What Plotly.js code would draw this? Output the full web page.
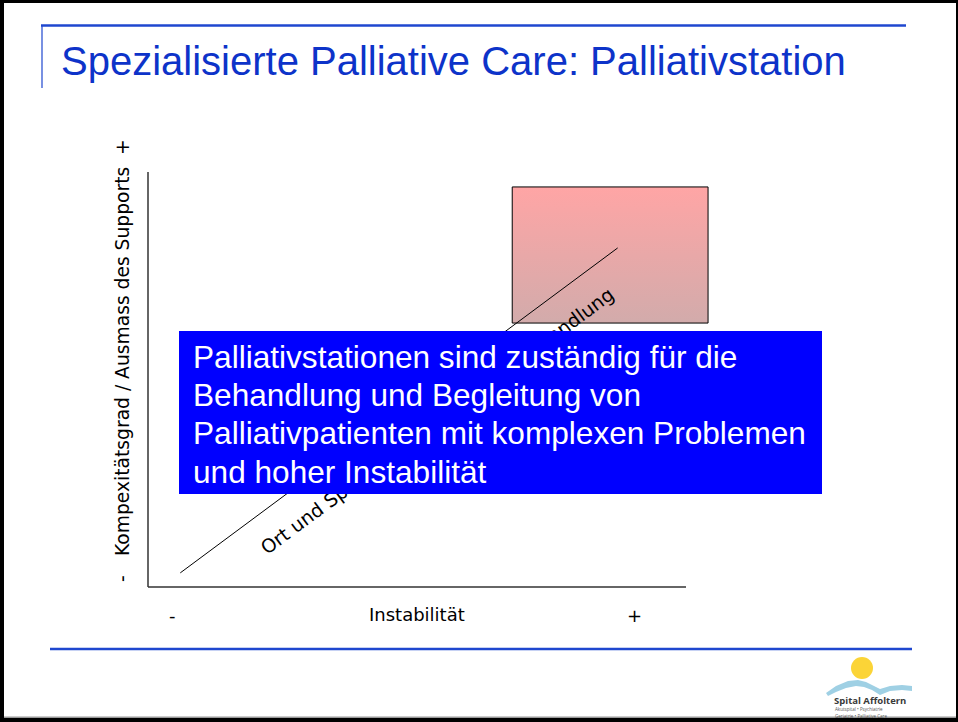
<!DOCTYPE html>
<html>
<head>
<meta charset="utf-8">
<script src="https://cdn.plot.ly/plotly-3.0.1.min.js"></script>
<style>
html,body{margin:0;padding:0;background:#fff;}
#chart{width:958px;height:722px;}
</style>
</head>
<body>
<div id="chart"></div>
<script>
// ---- data ----
const slideTitle = 'Spezialisierte Palliative Care: Palliativstation';
const xTitle = 'Instabilität';
const yTitle = 'Kompexitätsgrad / Ausmass des Supports';
const xEndLabels = ['-', '+'];
const yEndLabels = ['-', '+'];
const diagLabel = 'Ort und Spezialisierungsgrad der Behandlung';
const lineX = [0.6, 8.73];
const lineY = [0.34, 8.17];
const boxX = [6.77, 10.41];
const boxY = [6.36, 9.64];
const calloutLines = [
  'Palliativstationen sind zuständig für die',
  'Behandlung und Begleitung von',
  'Palliativpatienten mit komplexen Problemen',
  'und hoher Instabilität'
];
const logoName = 'Spital Affoltern';
const logoSub = ['Akutspital • Psychiatrie', 'Geriatrie • Palliative Care'];

// ---- geometry helpers (pixel -> paper) ----
const W = 958, H = 722;
const PL = 140, PR = 740, PT = 165, PB = 595;
const px = x => (x - PL) / (PR - PL);
const py = y => (PB - y) / (PB - PT);
// data scale: x 0..10 -> 148..686 ; y 0..10 -> 587..172
const xr = [(PL - 148) / 53.8, (PR - 148) / 53.8];
const yr = [(587 - PB) / 41.5, (587 - PT) / 41.5];

const traces = [
  {
    x: [boxX[0], boxX[1], boxX[1], boxX[0], boxX[0]],
    y: [boxY[0], boxY[0], boxY[1], boxY[1], boxY[0]],
    mode: 'lines', fill: 'toself',
    fillgradient: {type: 'vertical', colorscale: [[0, '#d2abab'], [1, '#ffa5a5']]},
    line: {color: '#000', width: 1},
    hoverinfo: 'skip', showlegend: false
  },
  {
    x: lineX, y: lineY, mode: 'lines',
    line: {color: '#000', width: 1},
    hoverinfo: 'skip', showlegend: false
  }
];

const blue = '#1f47cf';
function rectP(x0, y0, x1, y1, color, layer) {
  return {type: 'rect', xref: 'paper', yref: 'paper', x0: px(x0), x1: px(x1), y0: py(y0), y1: py(y1),
          fillcolor: color, line: {width: 0}, layer: layer || 'above'};
}
function lineP(x0, y0, x1, y1, color, width) {
  return {type: 'line', xref: 'paper', yref: 'paper', x0: px(x0), x1: px(x1), y0: py(y0), y1: py(y1),
          line: {color: color, width: width}, layer: 'above'};
}
function pathP(pts, color) {
  let d = pts.map((p, i) => (i === 0 ? 'M ' : 'L ') + px(p[0]) + ',' + py(p[1])).join(' ') + ' Z';
  return {type: 'path', xref: 'paper', yref: 'paper', path: d, fillcolor: color, line: {width: 0}, layer: 'above'};
}

const shapes = [
  // axis lines (data coordinates)
  {type: 'line', xref: 'x', yref: 'y', x0: 0, x1: 10, y0: 0, y1: 0, line: {color: '#333', width: 1.5}, layer: 'below'},
  {type: 'line', xref: 'x', yref: 'y', x0: 0, x1: 0, y0: 0, y1: 10, line: {color: '#333', width: 1.5}, layer: 'below'},
  // slide frame
  rectP(0, 0, 958, 3, '#000'),
  rectP(0, 0, 4, 722, '#000'),
  rectP(0, 718, 958, 722, '#000'),
  rectP(4, 716.5, 958, 718, '#999'),
  rectP(956, 0, 958, 722, '#000'),
  // decorative blue rules
  lineP(41, 25.5, 906, 25.5, blue, 2.5),
  lineP(42, 25, 42, 88, blue, 1.2),
  lineP(50, 649, 912, 649, blue, 2.5),
  // logo: sun + wave
  {type: 'circle', xref: 'paper', yref: 'paper', x0: px(851), x1: px(873), y0: py(657), y1: py(679),
   fillcolor: '#fbd437', line: {width: 0}, layer: 'above'},
  pathP([[826, 693], [836, 686], [848, 681], [858, 680], [866, 682], [874, 686], [880, 689],
         [890, 686], [902, 685], [912, 686], [912, 691], [902, 690], [890, 691], [880, 695],
         [872, 690], [864, 687], [856, 686], [846, 688], [836, 692], [828, 696]], '#9fd0e4')
];

const annotations = [];
// rotated line label (below the callout)
annotations.push({
  xref: 'x', yref: 'y', x: (436.5 - 148) / 53.8, y: (587 - 420.5) / 41.5,
  text: diagLabel, showarrow: false, textangle: -36.5,
  font: {family: 'DejaVu Sans', size: 19, color: '#000'},
  xanchor: 'center', yanchor: 'middle'
});
// callout box
annotations.push({
  xref: 'paper', yref: 'paper', x: px(500.5), y: py(412.5), text: ' ', showarrow: false,
  width: 643, height: 163, bgcolor: '#0000ff', borderpad: 0, borderwidth: 0,
  xanchor: 'center', yanchor: 'middle'
});
const calloutY = [357, 395, 433, 472];
calloutLines.forEach((t, i) => annotations.push({
  xref: 'paper', yref: 'paper', x: px(191), y: py(calloutY[i]), text: t, showarrow: false,
  xanchor: 'left', yanchor: 'middle', align: 'left',
  font: {family: 'Liberation Sans, Arial', size: 31.6, color: '#fff'}
}));
// axis labels
const axFont = {family: 'DejaVu Sans', size: 18, color: '#000'};
const yFont = {family: 'DejaVu Sans', size: 18.7, color: '#000'};
function lab(x, y, t, f, ang) {
  return {xref: 'paper', yref: 'paper', x: px(x), y: py(y), text: t, showarrow: false, font: f,
          xanchor: 'center', yanchor: 'middle', textangle: ang || 0};
}
annotations.push(lab(172, 615, xEndLabels[0], axFont));
annotations.push(lab(634, 615, xEndLabels[1], axFont));
annotations.push(lab(417, 614, xTitle, axFont));
annotations.push(lab(122, 579, yEndLabels[0], yFont, -90));
annotations.push(lab(122, 147, yEndLabels[1], yFont, -90));
annotations.push(lab(122, 362, yTitle, yFont, -90));
// logo text
annotations.push({xref: 'paper', yref: 'paper', x: px(832), y: py(700.5), text: '<b>' + logoName + '</b>', showarrow: false,
  xanchor: 'left', yanchor: 'middle', font: {family: 'Open Sans', size: 9.5, color: '#3a3a3a'}});
logoSub.forEach((t, i) => annotations.push({xref: 'paper', yref: 'paper', x: px(833), y: py(709 + i * 6.5), text: t,
  showarrow: false, xanchor: 'left', yanchor: 'middle', font: {family: 'Open Sans', size: 4.5, color: '#555'}}));

const layout = {
  width: W, height: H,
  margin: {l: PL, r: W - PR, t: PT, b: H - PB, pad: 0},
  paper_bgcolor: '#fff', plot_bgcolor: 'rgba(0,0,0,0)',
  title: {text: slideTitle, xref: 'container', yref: 'container', x: 61 / W, xanchor: 'left',
          y: 1 - 61 / H, yanchor: 'middle',
          font: {family: 'Liberation Sans, Arial', size: 40, color: '#0d33c9'}},
  xaxis: {range: xr, showgrid: false, zeroline: false, showline: false, showticklabels: false, ticks: '', fixedrange: true},
  yaxis: {range: yr, showgrid: false, zeroline: false, showline: false, showticklabels: false, ticks: '', fixedrange: true},
  shapes: shapes,
  annotations: annotations,
  showlegend: false
};

Plotly.newPlot('chart', traces, layout, {displayModeBar: false, staticPlot: true});
</script>
</body>
</html>
